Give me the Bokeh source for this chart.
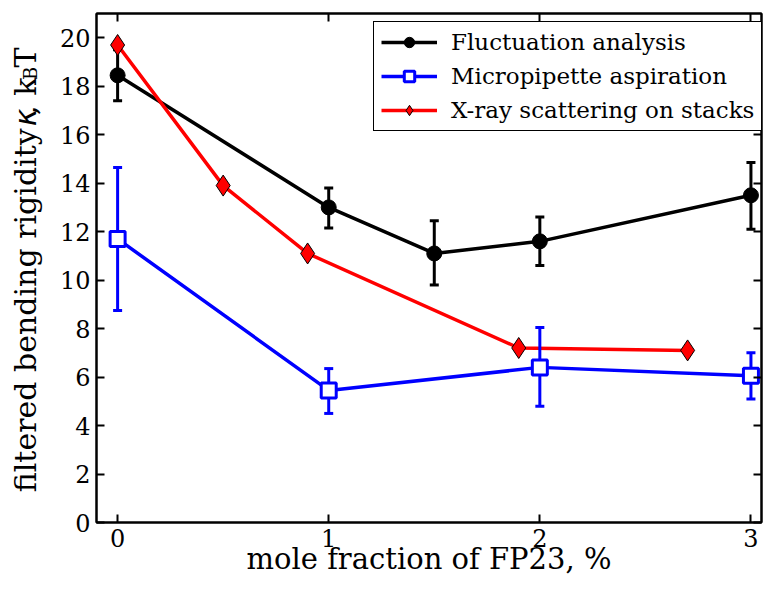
from math import pi
from bokeh.plotting import figure
from bokeh.layouts import row
from bokeh.core.properties import value
from bokeh.models import (Range1d, LinearAxis, FixedTicker, Legend, LegendItem,
                          CustomJSTickFormatter)
from bokeh.embed import file_html
from bokeh.resources import INLINE

# ---- data ----
fluct_x = [0, 1, 1.5, 2, 3]
fluct_y = [18.45, 13.0, 11.1, 11.6, 13.5]
fluct_lo = [17.4, 12.15, 9.8, 10.6, 12.1]
fluct_hi = [19.5, 13.8, 12.45, 12.6, 14.85]

pip_x = [0, 1, 2, 3]
pip_y = [11.7, 5.45, 6.4, 6.05]
pip_lo = [8.75, 4.5, 4.8, 5.1]
pip_hi = [14.65, 6.35, 8.05, 7.0]

xray_x = [0, 0.5, 0.9, 1.9, 2.7]
xray_y = [19.7, 13.9, 11.1, 7.2, 7.1]

x_ticks = [0, 1, 2, 3]
y_ticks = [0, 2, 4, 6, 8, 10, 12, 14, 16, 18, 20]

SERIF = "DejaVu Serif"
H = 578
W_LAB = 56
W_MAIN = 707

# ---------------- main plot ----------------
p = figure(width=W_MAIN, height=H, x_range=Range1d(-0.1, 3.05), y_range=Range1d(0, 21),
           output_backend="svg", toolbar_location=None,
           min_border_left=40, min_border_right=2, min_border_top=13)
p.grid.visible = False
p.outline_line_color = "black"
p.outline_line_width = 2
p.outline_line_alpha = 1

xb = p.below[0]
yl = p.left[0]
xb.ticker = FixedTicker(ticks=x_ticks)
yl.ticker = FixedTicker(ticks=y_ticks)

top = LinearAxis(ticker=FixedTicker(ticks=x_ticks),
                 formatter=CustomJSTickFormatter(code="return ''"))
right = LinearAxis(ticker=FixedTicker(ticks=y_ticks),
                   formatter=CustomJSTickFormatter(code="return ''"))
p.add_layout(top, "above")
p.add_layout(right, "right")

for ax in [xb, yl, top, right]:
    ax.axis_line_width = 2
    ax.axis_line_color = "black"
    ax.major_tick_in = 8
    ax.major_tick_out = 0
    ax.major_tick_line_width = 2
    ax.major_tick_line_color = "black"
    ax.minor_tick_line_color = None
    ax.major_label_text_font = SERIF
    ax.major_label_text_font_size = "24px"
    ax.major_label_text_color = "black"
top.major_label_standoff = 0
right.major_label_standoff = 0

xb.major_label_standoff = 6
yl.major_label_standoff = 6
xb.axis_label = "mole fraction of FP23, %"
xb.axis_label_text_font = SERIF
xb.axis_label_text_font_size = "29px"
xb.axis_label_text_font_style = "normal"
xb.axis_label_text_color = "black"
xb.axis_label_standoff = -8

LW = 3.5
# Fluctuation analysis (black)
l1 = p.line(fluct_x, fluct_y, line_color="black", line_width=LW)
p.segment(x0=fluct_x, y0=fluct_lo, x1=fluct_x, y1=fluct_hi, line_color="black", line_width=3)
p.scatter(fluct_x, fluct_lo, marker="dash", size=9, line_color="black", line_width=3)
p.scatter(fluct_x, fluct_hi, marker="dash", size=9, line_color="black", line_width=3)
m1 = p.scatter(fluct_x, fluct_y, marker="circle", size=15, fill_color="black", line_color="black")

# X-ray (red)
l3 = p.line(xray_x, xray_y, line_color="red", line_width=LW)
m3 = p.scatter(xray_x, xray_y, marker="diamond", size=21, fill_color="red",
               line_color="black", line_width=1)

# Micropipette (blue)
l2 = p.line(pip_x, pip_y, line_color="blue", line_width=LW)
p.segment(x0=pip_x, y0=pip_lo, x1=pip_x, y1=pip_hi, line_color="blue", line_width=3)
p.scatter(pip_x, pip_lo, marker="dash", size=9, line_color="blue", line_width=3)
p.scatter(pip_x, pip_hi, marker="dash", size=9, line_color="blue", line_width=3)
m2 = p.scatter(pip_x, pip_y, marker="square", size=15, fill_color="white",
               line_color="blue", line_width=3)

legend = Legend(items=[
    LegendItem(label="Fluctuation analysis", renderers=[l1, m1]),
    LegendItem(label="Micropipette aspiration", renderers=[l2, m2]),
    LegendItem(label="X-ray scattering on stacks", renderers=[l3, m3]),
], location=(277, 391))
legend.label_text_font = SERIF
legend.label_text_font_size = "23px"
legend.label_text_color = "black"
legend.border_line_color = "black"
legend.border_line_width = 1
legend.border_line_alpha = 1
legend.background_fill_alpha = 1
legend.glyph_width = 56
legend.glyph_height = 26
legend.padding = 7
legend.spacing = 8
legend.label_standoff = 14
p.add_layout(legend)

# ---------------- y-axis label panel (subscript B) ----------------
q = figure(width=W_LAB, height=H, x_range=Range1d(0, W_LAB), y_range=Range1d(0, H),
           output_backend="svg", toolbar_location=None, min_border=0,
           x_axis_location=None, y_axis_location=None)
q.grid.visible = False
q.outline_line_color = None

def lab(text, ycenter, xcenter, size="30px", font=SERIF, style="normal"):
    q.text(x=[xcenter], y=[H - ycenter], text=[text], angle=pi / 2,
           text_font=value(font), text_font_size=value(size),
           text_font_style=style, text_color="black",
           text_align="center", text_baseline="middle")

lab("filtered bending rigidity", 337, 25)
lab("\u03ba", 118, 25, font="DejaVu Sans", style="italic")
lab(", k", 94, 25)
lab("B", 68, 30, size="18px")
lab("T", 50, 25)

lay = row(q, p, spacing=0)
open("out.html", "w").write(file_html(lay, INLINE))
